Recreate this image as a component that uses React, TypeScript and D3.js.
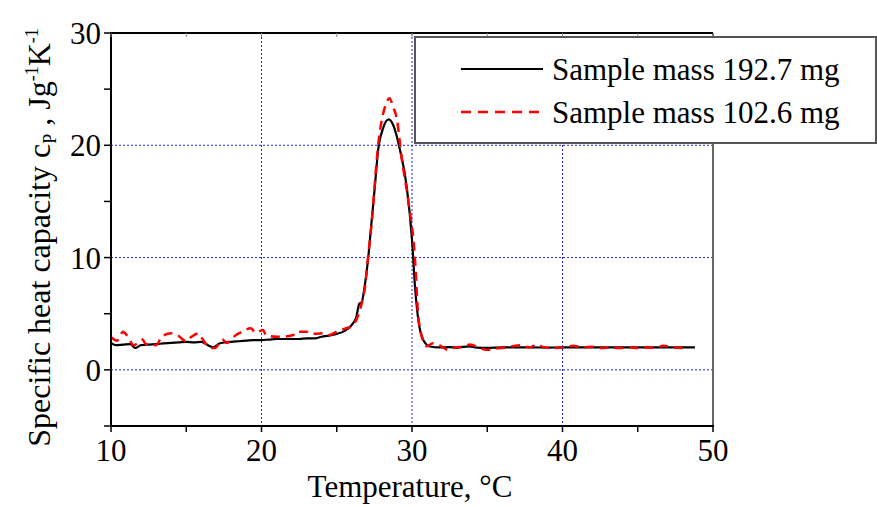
import React from "react";
import * as d3 from "d3";

const blackTemp = [10.0,10.3,10.8,11.3,11.6,12.0,12.5,13.0,13.5,14.0,14.5,15.0,15.5,16.0,16.5,16.8,17.2,17.6,18.0,18.5,19.0,19.5,20.0,20.5,21.0,21.5,22.0,22.5,23.0,23.5,24.0,24.5,25.0,25.5,26.0,26.3,26.5,26.65,26.85,27.1,27.3,27.55,27.75,28.05,28.45,28.75,29.2,29.65,30.0,30.2,30.42,30.75,31.2,31.8,32.5,33.0,33.8,34.3,35.0,36.0,37.0,38.0,39.0,40.0,41.0,42.0,43.0,44.0,45.0,46.0,47.0,48.0,48.8];
const blackCp = [2.4,2.2,2.25,2.3,1.95,2.2,2.25,2.3,2.35,2.4,2.45,2.5,2.45,2.5,2.15,2.0,2.35,2.45,2.5,2.55,2.6,2.65,2.65,2.7,2.75,2.75,2.75,2.75,2.8,2.8,2.95,3.05,3.2,3.45,4.0,4.7,5.9,6.0,7.4,10.1,13.0,16.6,19.6,21.4,22.3,21.8,19.6,16.3,11.6,7.4,4.45,2.67,2.08,2.0,2.02,1.98,2.1,1.98,1.95,2.0,2.0,2.0,1.98,2.0,2.0,2.0,2.0,2.0,2.0,2.0,2.0,2.0,2.0];

const redTemp = [10.0,10.4,10.8,11.1,11.5,12.1,12.3,13.0,13.4,14.0,14.4,15.0,15.3,15.8,16.1,16.6,16.9,17.4,17.7,18.3,18.5,19.3,19.6,20.1,20.3,21.0,21.4,22.1,22.3,23.0,23.3,24.1,24.5,25.0,25.6,26.0,26.3,26.65,26.9,27.1,27.35,27.55,27.75,28.0,28.25,28.5,28.75,29.0,29.3,29.75,30.2,30.4,30.65,30.98,31.4,31.8,32.4,32.9,33.4,33.85,34.4,34.96,35.6,36.2,36.7,37.2,37.8,38.3,38.8,39.5,40.2,40.7,41.3,42.0,42.6,43.2,43.8,44.4,45.0,45.6,46.2,46.7,47.3,48.0];
const redCp = [2.9,2.6,3.4,3.0,2.2,2.7,2.3,2.2,3.0,3.25,3.1,2.55,2.9,3.25,2.7,1.95,1.95,2.7,2.4,3.1,3.25,3.7,3.3,3.55,3.1,2.95,2.95,3.1,3.4,3.4,3.2,3.25,3.1,3.4,3.7,3.9,4.45,5.9,7.6,10.3,13.5,17.0,20.0,22.3,23.6,24.2,23.4,22.3,19.0,15.1,9.8,5.05,2.97,2.1,2.37,2.2,1.78,2.0,2.05,2.25,2.0,1.78,1.9,2.0,2.1,2.2,2.0,2.25,2.0,1.95,2.0,2.15,2.0,2.05,1.95,2.0,1.95,2.0,1.95,2.0,1.95,2.15,2.0,1.95];

const xTickLabels = [10, 20, 30, 40, 50];
const yTickLabels = [0, 10, 20, 30];
const seriesNames = ["Sample mass 192.7 mg", "Sample mass 102.6 mg"];

const FONT = "Liberation Serif, Tinos, DejaVu Serif, serif";

export default function App() {
  const L = 111, R = 713, T = 33, B = 426;
  const x = d3.scaleLinear().domain([10, 50]).range([L, R]);
  const y = d3.scaleLinear().domain([-5, 30]).range([B, T]);
  const line = d3.line<[number, number]>().x(d => x(d[0])).y(d => y(d[1])).curve(d3.curveMonotoneX);
  const black = blackTemp.map((t, i) => [t, blackCp[i]] as [number, number]);
  const red = redTemp.map((t, i) => [t, redCp[i]] as [number, number]);
  const minorTicks = d3.range(10, 50.01, 5);
  const yMinor = d3.range(-5, 30.01, 5);
  const fs = 31;
  const ts: React.CSSProperties = { fontFamily: FONT };
  return (
    <svg width={877} height={507} style={{ position: "absolute", left: 0, top: 0, background: "#fff", fontFamily: FONT }}>
      <rect x={0} y={0} width={877} height={507} fill="#fff" />
      {[20, 30, 40].map(v => (
        <line key={"gx" + v} x1={x(v)} x2={x(v)} y1={T} y2={B} stroke="#2222ee" strokeWidth={1} strokeDasharray="2,2" />
      ))}
      {[0, 10, 20].map(v => (
        <line key={"gy" + v} x1={L} x2={R} y1={y(v)} y2={y(v)} stroke="#2222ee" strokeWidth={1} strokeDasharray="2,2" />
      ))}
      <path d={line(black) || ""} fill="none" stroke="#000" strokeWidth={2.2} />
      <path d={line(red) || ""} fill="none" stroke="#ff0000" strokeWidth={2.5} strokeDasharray="9,6" />
      <line x1={R} x2={R} y1={T} y2={B} stroke="#666" strokeWidth={2} />
      <line x1={L} x2={R} y1={T} y2={T} stroke="#000" strokeWidth={2} />
      <line x1={L} x2={L} y1={T - 1} y2={B + 1} stroke="#000" strokeWidth={2} />
      <line x1={L - 1} x2={R + 1} y1={B} y2={B} stroke="#000" strokeWidth={2} />
      {minorTicks.map(v => (
        <line key={"xt" + v} x1={x(v)} x2={x(v)} y1={B} y2={B + 6} stroke="#000" strokeWidth={1.5} />
      ))}
      {minorTicks.map(v => (
        <line key={"xtt" + v} x1={x(v)} x2={x(v)} y1={T} y2={T + 4} stroke="#888" strokeWidth={1} />
      ))}
      {yMinor.map(v => (
        <line key={"yt" + v} x1={L - 7} x2={L} y1={y(v)} y2={y(v)} stroke="#000" strokeWidth={1.5} />
      ))}
      {xTickLabels.map(v => (
        <text key={"xl" + v} style={ts} x={x(v)} y={B + 35} fontSize={fs} textAnchor="middle" fill="#000">{v}</text>
      ))}
      {yTickLabels.map(v => (
        <text key={"yl" + v} style={ts} x={L - 10} y={y(v) + 11} fontSize={fs} textAnchor="end" fill="#000">{v}</text>
      ))}
      <text style={ts} x={(L + R) / 2 - 2} y={497} fontSize={fs} textAnchor="middle" fill="#000">Temperature, °C</text>
      <text style={ts} transform={`translate(50,${(T + B) / 2 + 8}) rotate(-90)`} fontSize={32} textAnchor="middle" fill="#000">
        Specific heat capacity c<tspan fontSize={18} dy={6}>P</tspan><tspan dy={-6}> , Jg</tspan><tspan fontSize={18} dy={-12}>-1</tspan><tspan dy={12}>K</tspan><tspan fontSize={18} dy={-12}>-1</tspan>
      </text>
      <rect x={415} y={37} width={461} height={106} fill="#fff" stroke="#555" strokeWidth={2} />
      <line x1={461} x2={543} y1={69} y2={69} stroke="#000" strokeWidth={2.2} />
      <line x1={461} x2={543} y1={112} y2={112} stroke="#ff0000" strokeWidth={2.5} strokeDasharray="10,7" />
      <text style={ts} x={552} y={80} fontSize={fs} fill="#000">{seriesNames[0]}</text>
      <text style={ts} x={552} y={123} fontSize={fs} fill="#000">{seriesNames[1]}</text>
    </svg>
  );
}
